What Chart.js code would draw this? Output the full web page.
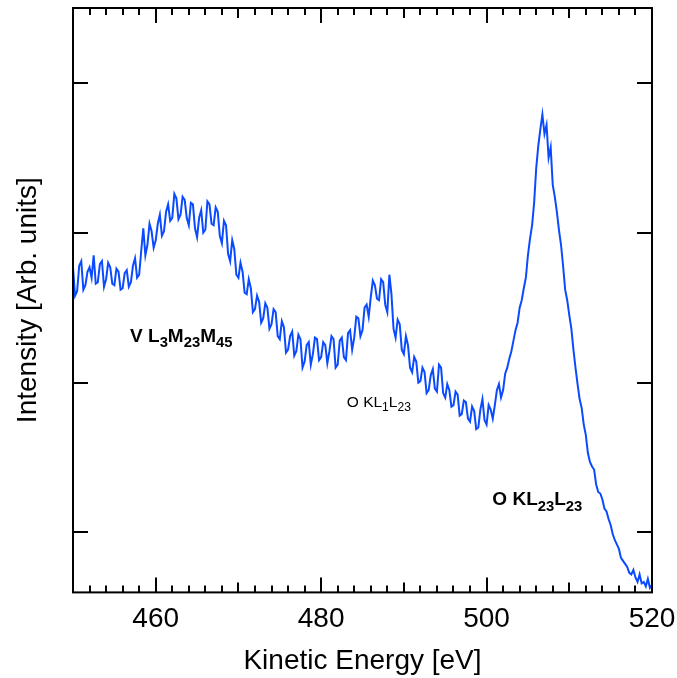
<!DOCTYPE html>
<html>
<head>
<meta charset="utf-8">
<script src="https://cdn.jsdelivr.net/npm/chart.js@4"></script>
<style>
  html, body { margin: 0; padding: 0; background: #fff; }
  #wrap { width: 677px; height: 678px; }
</style>
</head>
<body>
<div id="wrap"><canvas id="augerChart"></canvas></div>
<script>
// spectrum sampled every 0.25 eV starting at 450 eV (one row = 5 eV)
var eStart = 450;
var eStep = 0.25;
var intensity = [
    2.77, 2.58, 2.61, 2.78, 2.81, 2.62, 2.65, 2.74, 2.77, 2.70, 2.85, 2.66, 2.67, 2.79, 2.81, 2.64, 2.69, 2.80, 2.77, 2.66,
    2.65, 2.76, 2.74, 2.62, 2.63, 2.73, 2.75, 2.64, 2.67, 2.78, 2.83, 2.70, 2.72, 2.88, 3.03, 2.85, 2.92, 3.06, 3.01, 2.90,
    2.95, 3.06, 3.12, 2.98, 3.01, 3.14, 3.19, 3.08, 3.10, 3.26, 3.23, 3.09, 3.12, 3.24, 3.22, 3.10, 3.05, 3.20, 3.19, 3.03,
    2.97, 3.10, 3.15, 3.00, 3.02, 3.21, 3.19, 3.06, 3.05, 3.17, 3.14, 2.98, 2.93, 3.08, 3.05, 2.86, 2.81, 2.95, 2.89, 2.72,
    2.70, 2.80, 2.74, 2.60, 2.59, 2.69, 2.63, 2.47, 2.49, 2.58, 2.54, 2.40, 2.43, 2.53, 2.50, 2.36, 2.39, 2.49, 2.47, 2.31,
    2.29, 2.41, 2.37, 2.20, 2.22, 2.31, 2.34, 2.18, 2.21, 2.32, 2.29, 2.10, 2.14, 2.25, 2.27, 2.12, 2.19, 2.30, 2.29, 2.15,
    2.17, 2.27, 2.25, 2.13, 2.21, 2.31, 2.29, 2.10, 2.12, 2.28, 2.30, 2.17, 2.15, 2.33, 2.35, 2.22, 2.30, 2.44, 2.43, 2.31,
    2.35, 2.50, 2.52, 2.44, 2.57, 2.68, 2.65, 2.56, 2.55, 2.69, 2.67, 2.52, 2.47, 2.72, 2.59, 2.36, 2.30, 2.42, 2.39, 2.22,
    2.19, 2.31, 2.25, 2.10, 2.07, 2.17, 2.14, 2.00, 2.01, 2.10, 2.07, 1.93, 1.95, 2.05, 2.09, 1.96, 1.94, 2.12, 2.10, 1.93,
    1.90, 1.99, 1.95, 1.84, 1.85, 1.94, 1.92, 1.78, 1.79, 1.88, 1.87, 1.76, 1.74, 1.84, 1.81, 1.69, 1.70, 1.82, 1.89, 1.75,
    1.72, 1.85, 1.82, 1.76, 1.85, 1.95, 1.99, 1.90, 1.95, 2.06, 2.10, 2.16, 2.21, 2.28, 2.35, 2.40, 2.50, 2.55, 2.63, 2.70,
    2.85, 2.96, 3.05, 3.20, 3.43, 3.58, 3.69, 3.79, 3.66, 3.72, 3.50, 3.57, 3.32, 3.24, 3.14, 3.02, 2.92, 2.78, 2.62, 2.55,
    2.45, 2.36, 2.22, 2.10, 1.99, 1.89, 1.83, 1.72, 1.65, 1.53, 1.47, 1.44, 1.42, 1.32, 1.27, 1.26, 1.22, 1.16, 1.14, 1.09,
    1.05, 0.99, 0.95, 0.92, 0.89, 0.83, 0.81, 0.79, 0.77, 0.73, 0.72, 0.75, 0.70, 0.67, 0.72, 0.66, 0.67, 0.64, 0.69, 0.63,
    0.65
];
var xTicks = [460, 480, 500, 520];
var yTicks = [1, 2, 3, 4];

// peak labels, anchored in data units; parts are [text, isSubscript]
var peakLabels = [
    { x: 456.9, y: 2.27, bold: true, size: 19, parts: [['V L', 0], ['3', 1], ['M', 0], ['23', 1], ['M', 0], ['45', 1]] },
    { x: 483.1, y: 1.84, bold: false, size: 15.5, parts: [['O KL', 0], ['1', 1], ['L', 0], ['23', 1]] },
    { x: 500.7, y: 1.18, bold: true, size: 19, parts: [['O KL', 0], ['23', 1], ['L', 0], ['23', 1]] }
];

var points = intensity.map(function (v, i) { return { x: eStart + i * eStep, y: v }; });

var frameTicks = {
    id: 'frameTicks',
    afterDraw: function (chart) {
        var c = chart.ctx, a = chart.chartArea;
        var xs = chart.scales.x, ys = chart.scales.y;
        c.save();
        c.strokeStyle = '#000';
        c.lineWidth = 2;
        c.strokeRect(a.left, a.top, a.right - a.left, a.bottom - a.top);
        c.beginPath();
        for (var e = 452; e < 520; e += 2) {
            var px = Math.round(xs.getPixelForValue(e));
            var len = e % 20 === 0 ? 15 : (e % 10 === 0 ? 10 : 7);
            c.moveTo(px, a.bottom); c.lineTo(px, a.bottom - len);
            c.moveTo(px, a.top); c.lineTo(px, a.top + len);
        }
        yTicks.forEach(function (t) {
            var py = Math.round(ys.getPixelForValue(t));
            c.moveTo(a.left, py); c.lineTo(a.left + 15, py);
            c.moveTo(a.right, py); c.lineTo(a.right - 15, py);
        });
        c.stroke();

        c.fillStyle = '#000';
        c.textBaseline = 'alphabetic';
        peakLabels.forEach(function (lb) {
            var px = xs.getPixelForValue(lb.x);
            var py = ys.getPixelForValue(lb.y);
            var w = lb.bold ? 'bold ' : '';
            lb.parts.forEach(function (p) {
                var sub = p[1] === 1;
                var sz = sub ? lb.size * 0.78 : lb.size;
                c.font = w + sz + 'px "Liberation Sans", Arial, sans-serif';
                c.fillText(p[0], px, sub ? py + lb.size * 0.28 : py);
                px += c.measureText(p[0]).width;
            });
        });
        c.restore();
    }
};

var ctx = document.getElementById('augerChart').getContext('2d');
var myChart = new Chart(ctx, {
    type: 'line',
    data: {
        datasets: [{
            data: points,
            borderColor: '#0a4bff',
            borderWidth: 2,
            pointRadius: 0,
            tension: 0,
            fill: false
        }]
    },
    options: {
        responsive: true,
        maintainAspectRatio: false,
        animation: false,
        layout: { padding: { top: 8, right: 25, left: 8, bottom: 0 } },
        plugins: { legend: { display: false }, tooltip: { enabled: false } },
        scales: {
            x: {
                type: 'linear',
                min: 450,
                max: 520,
                afterBuildTicks: function (s) { s.ticks = xTicks.map(function (v) { return { value: v }; }); },
                afterFit: function (s) { s.paddingLeft = 0; s.paddingRight = 0; },
                grid: { display: false, drawTicks: false },
                border: { display: false },
                ticks: {
                    color: '#000',
                    padding: 10,
                    maxRotation: 0,
                    font: { family: '"Liberation Sans", Arial, sans-serif', size: 28 }
                },
                title: {
                    display: true,
                    text: 'Kinetic Energy [eV]',
                    color: '#000',
                    padding: { top: 0, bottom: 1.2 },
                    font: { family: '"Liberation Sans", Arial, sans-serif', size: 28, lineHeight: 1.1 }
                }
            },
            y: {
                min: 0.6,
                max: 4.5,
                afterBuildTicks: function (s) { s.ticks = yTicks.map(function (v) { return { value: v }; }); },
                grid: { display: false, drawTicks: false },
                border: { display: false },
                ticks: { display: false },
                title: {
                    display: true,
                    text: 'Intensity [Arb. units]',
                    color: '#000',
                    padding: { top: 3, bottom: 28.4 },
                    font: { family: '"Liberation Sans", Arial, sans-serif', size: 28, lineHeight: 1.2 }
                }
            }
        }
    },
    plugins: [frameTicks]
});
</script>
</body>
</html>
